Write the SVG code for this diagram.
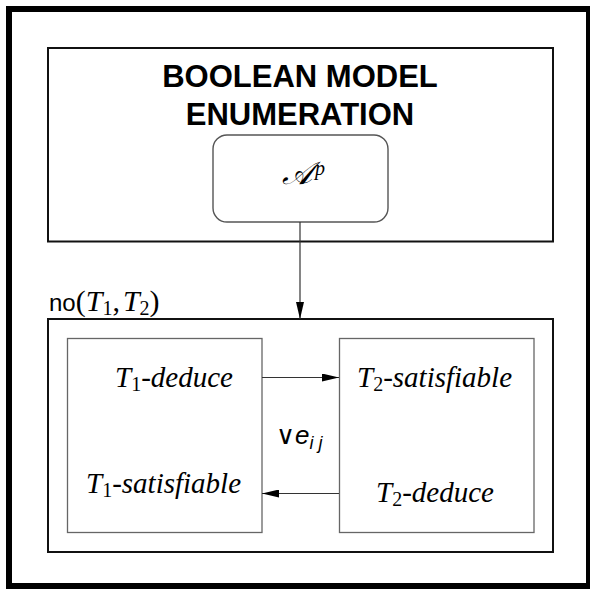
<svg xmlns="http://www.w3.org/2000/svg" width="590" height="590" viewBox="0 0 590 590">
<style>
.frame{fill:none;stroke:#000;stroke-width:6}
.box{fill:#fff;stroke:#111;stroke-width:2}
.inner{fill:#fff;stroke:#666;stroke-width:1.3}
.rbox{fill:#fff;stroke:#555;stroke-width:1.4}
.conn{fill:none;stroke:#333;stroke-width:1.2}
.title{font-family:"Liberation Sans",Arial,sans-serif;font-weight:bold;font-size:31px;fill:#000}
.math{font-family:"Liberation Serif","Times New Roman",serif;font-style:italic;font-size:29px;fill:#000}
.up{font-style:normal}
.sans{font-family:"Liberation Sans",Arial,sans-serif;font-size:24px;fill:#000}
.mr{font-family:"Liberation Serif","Times New Roman",serif;font-size:30px}
.mi{font-family:"Liberation Serif","Times New Roman",serif;font-style:italic;font-size:30px}
.ms{font-family:"Liberation Serif","Times New Roman",serif;font-size:20px}
</style>
<defs>
<marker id="ah" markerUnits="userSpaceOnUse" markerWidth="17" markerHeight="8" refX="17" refY="4" orient="auto">
<path d="M0,0 L17,4 L0,8 z" fill="#000"/>
</marker>
</defs>
<rect class="frame" x="9" y="9" width="580" height="577"/>
<g id="enumeration">
<rect class="box" x="48" y="48" width="505" height="193.5"/>
<text class="title" x="300" y="87" text-anchor="middle">BOOLEAN MODEL</text>
<text class="title" x="300" y="125" text-anchor="middle">ENUMERATION</text>
</g>
<g id="ap">
<rect class="rbox" x="213" y="135" width="175" height="87" rx="14" ry="14"/>
<text x="282" y="184" style="font-family:'DejaVu Serif','Liberation Serif',serif;font-style:italic;font-size:32px"><tspan>𝒜</tspan><tspan font-family="Liberation Serif" font-size="20" dx="3" dy="-9">p</tspan></text>
</g>
<g id="no">
<text x="49" y="311"><tspan class="sans">no</tspan><tspan class="mr">(</tspan><tspan class="mi">T</tspan><tspan class="ms" dy="4">1</tspan><tspan class="mr" dy="-4">,</tspan><tspan class="mi" dx="3">T</tspan><tspan class="ms" dy="4">2</tspan><tspan class="mr" dy="-4">)</tspan></text>
<rect class="box" x="48" y="319" width="505" height="233"/>
</g>
<g id="t1">
<rect class="inner" x="67.5" y="338.5" width="194.5" height="194"/>
<text class="math" x="115" y="387">T<tspan class="up" font-size="20" dy="4">1</tspan><tspan dy="-4">-deduce</tspan></text>
<text class="math" x="86" y="493">T<tspan class="up" font-size="20" dy="4">1</tspan><tspan dy="-4">-satisfiable</tspan></text>
</g>
<g id="t2">
<rect class="inner" x="339.5" y="338.5" width="194.5" height="194"/>
<text class="math" x="357" y="387">T<tspan class="up" font-size="20" dy="4">2</tspan><tspan dy="-4">-satisfiable</tspan></text>
<text class="math" x="376" y="502">T<tspan class="up" font-size="20" dy="4">2</tspan><tspan dy="-4">-deduce</tspan></text>
</g>
<g id="connectors">
<line class="conn" x1="300" y1="222" x2="300" y2="319" marker-end="url(#ah)"/>
<line class="conn" x1="262" y1="377.5" x2="339" y2="377.5" marker-end="url(#ah)"/>
<line class="conn" x1="339" y1="493.5" x2="262" y2="493.5" marker-end="url(#ah)"/>
<text x="276" y="444"><tspan style="font-family:'DejaVu Sans',sans-serif;font-size:26px">∨</tspan><tspan style="font-family:'Liberation Sans',sans-serif;font-style:italic;font-size:26px">e</tspan><tspan style="font-family:'Liberation Sans',sans-serif;font-style:italic;font-size:18px" dy="5">i j</tspan></text>
</g>
</svg>
